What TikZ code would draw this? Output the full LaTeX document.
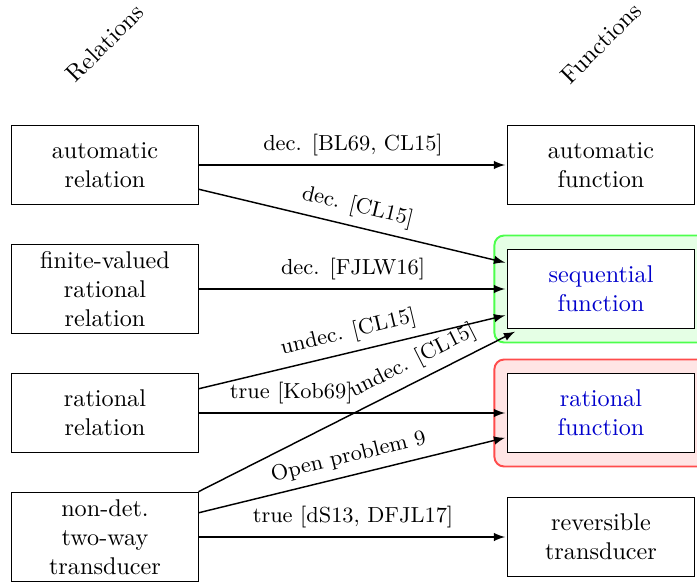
\documentclass[tikz,border=0pt]{standalone}
\usepackage{xcolor}
\usepackage{tikz}
\usepackage{amsmath}
\usetikzlibrary{fit,backgrounds}

\tikzset{
  class/.style={draw, fill=white, align=center, minimum width=76.9pt, minimum height=33pt, inner sep=3pt},
  fun/.style={class, text=blue!80!black},
  arr/.style={->, >=latex, semithick, shorten >=1pt},
  lab/.style={font=\small, sloped, above},
  zoneok/.style={draw=green!70, fill=green!10, thick, rounded corners=4pt, inner sep=5.4pt},
  zonebad/.style={draw=red!70, fill=red!10, thick, rounded corners=4pt, inner sep=5.4pt}
}

\begin{document}
\begin{tikzpicture}[x=0.4132pt, y=-0.4132pt]
	\useasboundingbox (0,0) rectangle (697,583);
	% column titles
	\node[rotate=45] (rel) at (105,43) {Relations};
	\node[rotate=45] (fct) at (601,43) {Functions};
	% relations
	\node[class] (autrel) at (105,165) {automatic\\relation};
	\node[class] (finrel) at (105,289) {finite-valued\\rational\\relation};
	\node[class] (ratrel) at (105,413) {rational\\relation};
	\node[class] (twoway) at (105,537) {non-det.\\two-way\\transducer};
	% functions
	\node[class] (autfun) at (601,165) {automatic\\function};
	\node[fun] (seqfun) at (601,289) {sequential\\function};
	\node[fun] (ratfun) at (601,413) {rational\\function};
	\node[class] (revfun) at (601,537) {reversible\\transducer};
	\begin{scope}[on background layer]
		\node[zoneok, fit=(seqfun)] (seqzone) {};
		\node[zonebad, fit=(ratfun)] (ratzone) {};
	\end{scope}
	% arrows
	\draw[arr] (autrel) -- node[lab] {dec. [BL69, CL15]} (autfun);
	\draw[arr] ([yshift=-10pt]autrel.east) -- node[lab] {dec. [CL15]} ([yshift=10.7pt]seqfun.west);
	\draw[arr] (finrel) -- node[lab] {dec. [FJLW16]} (seqfun);
	\draw[arr] ([yshift=10pt]ratrel.east) -- node[lab] {undec. [CL15]} ([yshift=-10.7pt]seqfun.west);
	\draw[arr] (ratrel) -- node[lab, pos=0.3] {true [Kob69]} (ratfun);
	\draw[arr] (twoway.north east) -- node[lab, pos=0.7] {undec. [CL15]} ([xshift=4pt,yshift=-0.5pt]seqfun.south west);
	\draw[arr] ([yshift=10pt]twoway.east) -- node[lab] {Open problem 9} ([yshift=-10pt]ratfun.west);
	\draw[arr] (twoway) -- node[lab] {true [dS13, DFJL17]} (revfun);
\end{tikzpicture}
\end{document}
